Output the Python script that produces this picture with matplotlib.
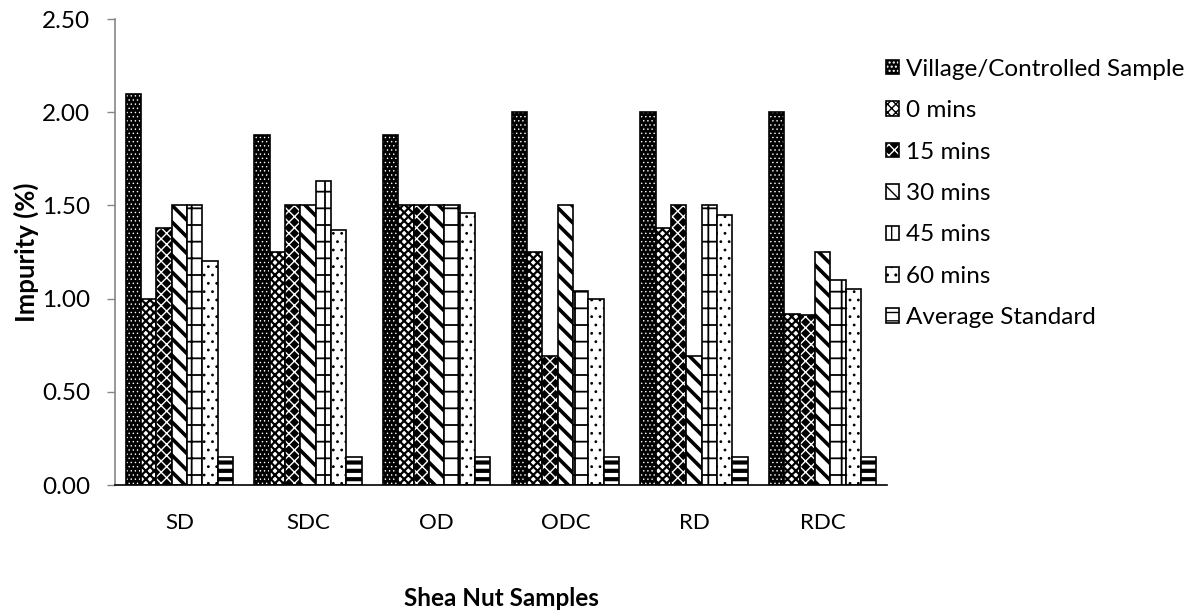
import matplotlib
matplotlib.use("Agg")
import matplotlib.pyplot as plt
from matplotlib.patches import Patch
import numpy as np

categories = ["SD", "SDC", "OD", "ODC", "RD", "RDC"]
series_names = ["Village/Controlled Sample", "0 mins", "15 mins", "30 mins",
                "45 mins", "60 mins", "Average Standard"]
village = [2.10, 1.88, 1.88, 2.00, 2.00, 2.00]
m0 = [1.00, 1.25, 1.50, 1.25, 1.38, 0.92]
m15 = [1.38, 1.50, 1.50, 0.69, 1.50, 0.91]
m30 = [1.50, 1.50, 1.50, 1.50, 0.69, 1.25]
m45 = [1.50, 1.63, 1.50, 1.04, 1.50, 1.10]
m60 = [1.20, 1.37, 1.46, 1.00, 1.45, 1.05]
avg_std = [0.15, 0.15, 0.15, 0.15, 0.15, 0.15]
series = [village, m0, m15, m30, m45, m60, avg_std]

# (facecolor, hatch colour, hatch, hatch linewidth)
styles = [
    ("black", "white", "....", 0.5),
    ("white", "black", "xxxx", 1.6),
    ("black", "white", "xxx", 1.0),
    ("white", "black", "\\\\", 2.6),
    ("white", "black", "+", 1.3),
    ("white", "black", "..", 0.8),
    ("white", "black", "--", 3.0),
]

plt.rcParams['font.family'] = ['Lato', 'DejaVu Sans']

fig = plt.figure(figsize=(11.98, 6.13), dpi=100)
ax = fig.add_axes([0.096, 0.2088, 0.6444, 0.7602])

x = np.arange(len(categories))
n = len(series)
bw = 0.119
handles = []
for i, (vals, (fc, hc, h, hlw)) in enumerate(zip(series, styles)):
    pos = x + (i - (n - 1) / 2) * bw
    with plt.rc_context({'hatch.linewidth': hlw}):
        ax.bar(pos, vals, bw, facecolor=fc, edgecolor=hc, hatch=h, linewidth=0)
        hp = Patch(facecolor=fc, edgecolor=hc, hatch=h, linewidth=0)
    op = Patch(facecolor="none", edgecolor="black", linewidth=1.2)
    handles.append((hp, op))
    ax.bar(pos, vals, bw, facecolor="none", edgecolor="black", linewidth=1.2)

ax.set_xlim(-0.5, len(categories) - 0.5)
ax.set_ylim(0, 2.5)
yt = np.arange(0, 2.51, 0.5)
ax.set_yticks(yt)
ax.set_yticklabels([f"{v:.2f}" for v in yt], fontsize=17.5)
ax.set_xticks(x)
ax.set_xticklabels(categories, fontsize=16)
ax.tick_params(axis='x', length=0, pad=20)
ax.tick_params(axis='y', length=6, width=1, color="#868686", pad=12)
for s in ["top", "right"]:
    ax.spines[s].set_visible(False)
ax.spines["left"].set_color("#868686")
ax.spines["left"].set_linewidth(1.2)
ax.spines["bottom"].set_color("black")
ax.spines["bottom"].set_linewidth(1.2)

ax.set_ylabel("Impurity (%)", fontsize=18.5, fontweight="bold", labelpad=2)
ax.set_xlabel("Shea Nut Samples", fontsize=17.5, fontweight="bold", labelpad=39)

fig.legend(handles, series_names, loc="upper left",
           bbox_to_anchor=(0.7315, 0.92), frameon=False, fontsize=17.5,
           handlelength=0.55, handleheight=0.55, handletextpad=0.28,
           labelspacing=0.84, borderaxespad=0)

fig.savefig("out.png", dpi=100)
